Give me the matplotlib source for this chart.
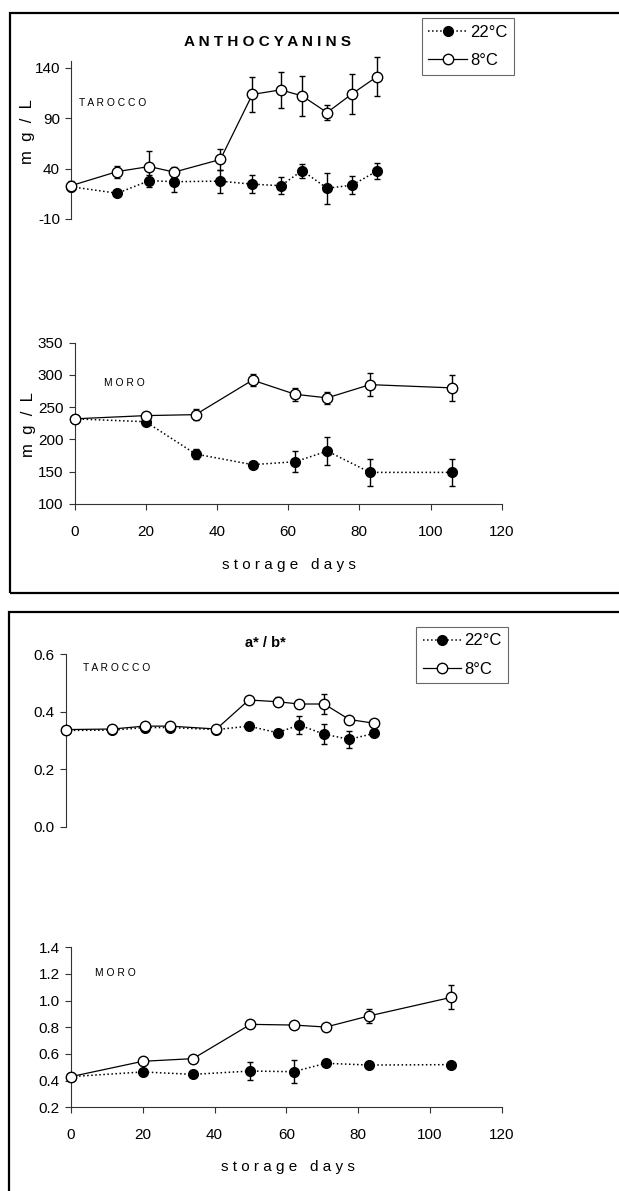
import matplotlib
matplotlib.use("Agg")
import matplotlib.pyplot as plt
from matplotlib.lines import Line2D
from matplotlib.patches import Rectangle

plt.rcParams['font.family'] = ['Liberation Sans', 'DejaVu Sans']
plt.rcParams['axes.unicode_minus'] = False

# ---- data ----
tar_days = [0, 13, 22, 29, 42, 51, 59, 65, 72, 79, 86]
moro_days = [0, 20, 34, 50, 62, 71, 83, 106]

# anthocyanins, mg/L
tar_ant_22 = [22, 15.5, 28, 27, 27.5, 24.5, 23, 38, 20.5, 23.5, 37.5]
tar_ant_22_err = [3, 3, 6, 10.5, 11.5, 9, 8.5, 7, 15.5, 9, 8]
tar_ant_8 = [23, 37, 42, 36.5, 49, 113.5, 118, 112, 95.5, 114, 131]
tar_ant_8_err = [5, 6, 15.5, 5, 10, 17.5, 17.5, 19.5, 7, 19.5, 19.5]

moro_ant_22 = [232, 227.5, 177.5, 161, 165.5, 182, 149, 149]
moro_ant_22_err = [3, 4, 8, 5, 16, 21.5, 20.5, 20.5]
moro_ant_8 = [232, 237, 238.5, 292, 270, 264.5, 285, 280]
moro_ant_8_err = [3, 5, 8, 9, 10, 9, 18, 20.5]

# a*/b*
tar_ab_22 = [0.335, 0.336, 0.345, 0.345, 0.338, 0.350, 0.327, 0.354, 0.322, 0.304, 0.325]
tar_ab_22_err = [0.005, 0.005, 0.008, 0.008, 0.008, 0.01, 0.01, 0.03, 0.035, 0.029, 0.01]
tar_ab_8 = [0.338, 0.340, 0.350, 0.350, 0.340, 0.441, 0.435, 0.427, 0.427, 0.373, 0.360]
tar_ab_8_err = [0.005, 0.005, 0.005, 0.005, 0.005, 0.01, 0.015, 0.008, 0.035, 0.008, 0.008]

moro_ab_22 = [0.43, 0.465, 0.447, 0.472, 0.467, 0.53, 0.517, 0.52]
moro_ab_22_err = [0.01, 0.01, 0.01, 0.07, 0.085, 0.01, 0.01, 0.01]
moro_ab_8 = [0.43, 0.545, 0.565, 0.822, 0.817, 0.802, 0.885, 1.025]
moro_ab_8_err = [0.01, 0.01, 0.02, 0.01, 0.01, 0.01, 0.05, 0.09]

W, H = 619, 1191
fig = plt.figure(figsize=(W / 100, H / 100), dpi=100)


def axes_px(x1, y1, x2, y2):
    return fig.add_axes([x1 / W, 1 - y2 / H, (x2 - x1) / W, (y2 - y1) / H])


def txt(x, y, s, **kw):
    fig.text(x / W, 1 - y / H, s, **kw)


def spaced(s):
    return " ".join(s)


def draw(ax, days, v22, e22, v8, e8):
    ax.errorbar(days, v22, yerr=e22, fmt='o', ls=':', color='black', mfc='black',
                mec='black', ms=7, lw=1.1, elinewidth=1, capsize=2.5, capthick=1,
                zorder=3, clip_on=False)
    ax.errorbar(days, v8, yerr=e8, fmt='o', ls='-', color='black', mfc='white',
                mec='black', ms=7.5, mew=1, lw=0.9, elinewidth=1, capsize=2.5,
                capthick=1, zorder=4, clip_on=False)


def style(ax, xaxis):
    for s in ['top', 'right']:
        ax.spines[s].set_visible(False)
    ax.spines['left'].set_linewidth(0.8)
    ax.spines['left'].set_color('#333333')
    if xaxis:
        ax.spines['bottom'].set_linewidth(0.8)
        ax.spines['bottom'].set_color('#333333')
        ax.set_xticks([0, 20, 40, 60, 80, 100, 120])
        ax.tick_params(axis='x', direction='out', length=4, width=0.8,
                       labelsize=11, pad=11, colors='#333333', labelcolor='black')
    else:
        ax.spines['bottom'].set_visible(False)
        ax.set_xticks([])
    ax.set_xlim(0, 120)
    ax.tick_params(axis='y', direction='out', length=4, width=0.8, labelsize=11,
                   pad=4, colors='#333333', labelcolor='black')
    ax.patch.set_visible(False)


# ---- anthocyanins ----
ax1 = axes_px(71, 60.6, 497.8, 219)
draw(ax1, tar_days, tar_ant_22, tar_ant_22_err, tar_ant_8, tar_ant_8_err)
style(ax1, False)
ax1.set_ylim(-10, 147)
ax1.set_yticks([-10, 40, 90, 140])

ax2 = axes_px(74.5, 342.7, 501.7, 504)
draw(ax2, moro_days, moro_ant_22, moro_ant_22_err, moro_ant_8, moro_ant_8_err)
style(ax2, True)
ax2.set_ylim(100, 350)
ax2.set_yticks([100, 150, 200, 250, 300, 350])

# ---- a*/b* ----
ax3 = axes_px(65.7, 654.3, 496.5, 826.7)
draw(ax3, tar_days, tar_ab_22, tar_ab_22_err, tar_ab_8, tar_ab_8_err)
style(ax3, False)
ax3.set_ylim(0, 0.6)
ax3.set_yticks([0.0, 0.2, 0.4, 0.6])
ax3.set_yticklabels(['0.0', '0.2', '0.4', '0.6'])

ax4 = axes_px(71, 947.3, 501.7, 1107.3)
draw(ax4, moro_days, moro_ab_22, moro_ab_22_err, moro_ab_8, moro_ab_8_err)
style(ax4, True)
ax4.set_ylim(0.2, 1.4)
ax4.set_yticks([0.2, 0.4, 0.6, 0.8, 1.0, 1.2, 1.4])
ax4.set_yticklabels(['0.2', '0.4', '0.6', '0.8', '1.0', '1.2', '1.4'])

# ---- texts ----
txt(267, 42, spaced("ANTHOCYANINS"), ha='center', va='center', fontsize=11,
    fontweight='bold')
txt(265, 643, "a* / b*", ha='center', va='center', fontsize=10.5, fontweight='bold')
txt(79, 103, spaced("TAROCCO"), ha='left', va='center', fontsize=7.4)
txt(104, 383.5, spaced("MORO"), ha='left', va='center', fontsize=7.4)
txt(82.7, 668, spaced("TAROCCO"), ha='left', va='center', fontsize=7.4)
txt(95, 973, spaced("MORO"), ha='left', va='center', fontsize=7.4)
txt(27.5, 132, "m  g  /  L", ha='center', va='center', rotation=90, fontsize=12)
txt(28, 425, "m  g  /  L", ha='center', va='center', rotation=90, fontsize=12)
txt(289, 565, spaced("storage") + "   " + spaced("days"), ha='center', va='center',
    fontsize=11)
txt(288, 1167, spaced("storage") + "   " + spaced("days"), ha='center', va='center',
    fontsize=11)

# ---- panel frames ----
fig.add_artist(Rectangle((9.5 / W, 1 - 593 / H), 620 / W, 580 / H,
                         transform=fig.transFigure, fill=False, lw=1.6,
                         edgecolor='black'))
fig.add_artist(Rectangle((8.5 / W, 1 - 1200 / H), 620 / W, 588 / H,
                         transform=fig.transFigure, fill=False, lw=1.6,
                         edgecolor='black'))

# ---- legends ----
handles = [
    Line2D([], [], ls=':', color='black', marker='o', mfc='black', ms=7, lw=1.1),
    Line2D([], [], ls='-', color='black', marker='o', mfc='white', ms=7.5, lw=0.9),
]
labels = ['22°C', '8°C']
for (x1, y1) in [(421.7, 18.3), (416, 626.7)]:
    leg = fig.legend(handles, labels, loc='upper left',
                     bbox_to_anchor=(x1 / W, 1 - y1 / H), fontsize=12,
                     frameon=True, fancybox=False, handlelength=2.3,
                     handletextpad=0.2, borderpad=0.4, labelspacing=0.8,
                     borderaxespad=0)
    leg.get_frame().set_edgecolor('#444444')
    leg.get_frame().set_linewidth(0.8)

fig.savefig('out.png', dpi=100)
